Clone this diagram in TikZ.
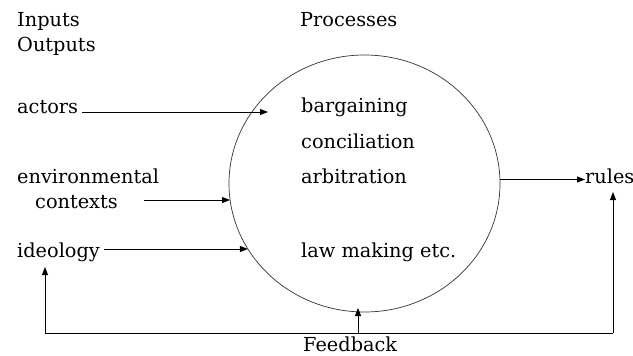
\documentclass[tikz,border=0pt]{standalone}
\usepackage{fontspec}
\setmainfont{DejaVu Serif}
\usetikzlibrary{shapes.geometric,arrows.meta}
\begin{document}
\begin{tikzpicture}[x=1pt,y=-1pt,
  lbl/.style={anchor=base west,inner sep=0pt,font=\fontsize{19.3}{22}\selectfont},
  arr/.style={line width=0.9pt,-{Triangle[length=8pt,width=6pt]}},
  fb/.style={line width=0.9pt}]
\useasboundingbox (0,0) rectangle (633,356);
\node[lbl] (inputs) at (17,27) {Inputs};
\node[lbl] (outputs) at (17,52) {Outputs};
\node[lbl] (processes) at (300,27) {Processes};
\node[draw,ellipse,line width=0.7pt,draw=black!80,minimum width=271,minimum height=257,inner sep=0pt] (proc) at (364.5,183.5) {};
\node[lbl] (actors) at (17,113) {actors};
\node[lbl] (barg) at (301,112) {bargaining};
\node[lbl] (conc) at (301,148) {conciliation};
\node[lbl] (arbi) at (301,183) {arbitration};
\node[lbl] (law) at (301,257) {law making etc.};
\node[lbl] (env) at (17,183) {environmental};
\node[lbl] (ctx) at (35,208) {contexts};
\node[lbl] (ideo) at (17,257) {ideology};
\node[lbl] (rules) at (585,183) {rules};
\node[lbl,text depth=0pt] (feedback) at (303,351.5) {Feedback};
\coordinate (aS) at (82,112);
\coordinate (aE) at (268,112);
\coordinate (eS) at (144,200);
\coordinate (eE) at (230,200);
\coordinate (iS) at (104,249);
\coordinate (iE) at (247.9,249);
\coordinate (rS) at (500,179.5);
\coordinate (rE) at (585,179.5);
\coordinate (fL) at (45,333);
\coordinate (fM) at (358,333);
\coordinate (fR) at (613,333);
\coordinate (fLt) at (45,267);
\coordinate (fMt) at (358,308);
\coordinate (fRt) at (613,192);
\draw[arr] (aS) -- (aE);
\draw[arr] (eS) -- (eE);
\draw[arr] (iS) -- (iE);
\draw[arr] (rS) -- (rE);
\draw[fb] (fL) -- (fR);
\draw[arr] (fL) -- (fLt);
\draw[arr] (fR) -- (fRt);
\draw[arr] (fM) -- (fMt);
\end{tikzpicture}
\end{document}
